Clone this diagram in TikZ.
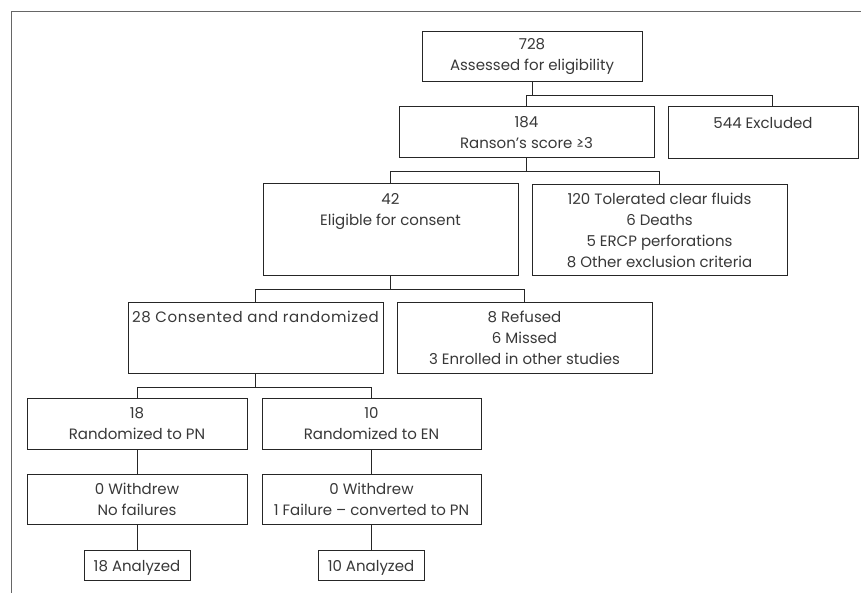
\documentclass[tikz,border=0pt]{standalone}
\usepackage{fontspec}
\setmainfont{Poppins}
\begin{document}
\begin{tikzpicture}[x=1pt,y=-1pt,
  box/.style={draw=black!85, line width=1pt, align=center, inner sep=0pt,
    text=black!78, font=\fontsize{15}{21}\selectfont,
    execute at begin node={\rule{0pt}{17pt}}},
  conn/.style={draw=black!85, line width=1pt}]
\useasboundingbox (0,0) rectangle (861,593);
\draw[black!60, line width=1.3pt] (11.5,593) -- (11.5,11.5) -- (861,11.5);

\node[box, minimum width=220pt, minimum height=50pt] (b728) at (532,57) {728\\Assessed for eligibility};
\node[box, minimum width=255pt, minimum height=51pt] (b184) at (526.5,132.5) {184\\Ranson's score ≥3};
\node[box, minimum width=190pt, minimum height=52pt] (b544) at (763,133) {544 Excluded\\~};
\node[box, minimum width=255pt, minimum height=92pt] (b42) at (390.5,230) {42\\Eligible for consent\\~\\~};
\node[box, minimum width=255pt, minimum height=91pt] (b120) at (659.5,230) {120 Tolerated clear fluids\\6 Deaths\\5 ERCP perforations\\8 Other exclusion criteria};
\node[box, minimum width=255pt, minimum height=71pt] (b28) at (255.5,337.5) {\addfontfeature{LetterSpace=4}28 Consented and randomized\\~\\~};
\node[box, minimum width=255pt, minimum height=71pt] (bref) at (524.5,337.5) {8 Refused\\6 Missed\\3 Enrolled in other studies};
\node[box, minimum width=220pt, minimum height=51pt] (b18) at (137,423.5) {18\\Randomized to PN};
\node[box, minimum width=219pt, minimum height=51pt] (b10) at (371.5,423.5) {10\\Randomized to EN};
\node[box, minimum width=220pt, minimum height=50pt] (w18) at (137,499) {0 Withdrew\\No failures};
\node[box, minimum width=219pt, minimum height=50pt] (w10) at (371.5,499) {0 Withdrew\\1 Failure – converted to PN};
\node[box, minimum width=106pt, minimum height=30pt, execute at begin node={}] (a18) at (137,565) {18 Analyzed};
\node[box, minimum width=106pt, minimum height=30pt, execute at begin node={}] (a10) at (371,565) {10 Analyzed};

\draw[conn] (b728.south) -- (b728.south |- 0,96);
\draw[conn] (b184.north) -- (b184.north |- 0,96) -- ([xshift=9pt]b544.north |- 0,96) -- ([xshift=9pt]b544.north);
\draw[conn] (b184.south) -- (b184.south |- 0,172);
\draw[conn] (b42.north) -- (b42.north |- 0,172) -- (b120.north |- 0,172) -- (b120.north);
\draw[conn] (b42.south) -- (b42.south |- 0,290);
\draw[conn] (b28.north) -- (b28.north |- 0,290) -- (bref.north |- 0,290) -- (bref.north);
\draw[conn] (b28.south) -- (b28.south |- 0,387);
\draw[conn] (b18.north) -- (b18.north |- 0,387) -- (b10.north |- 0,387) -- (b10.north);
\draw[conn] (b18.south) -- (w18.north);
\draw[conn] (b10.south) -- (w10.north);
\draw[conn] (w18.south) -- (a18.north);
\draw[conn] (w10.south) -- (w10.south |- a10.north);
\end{tikzpicture}
\end{document}
